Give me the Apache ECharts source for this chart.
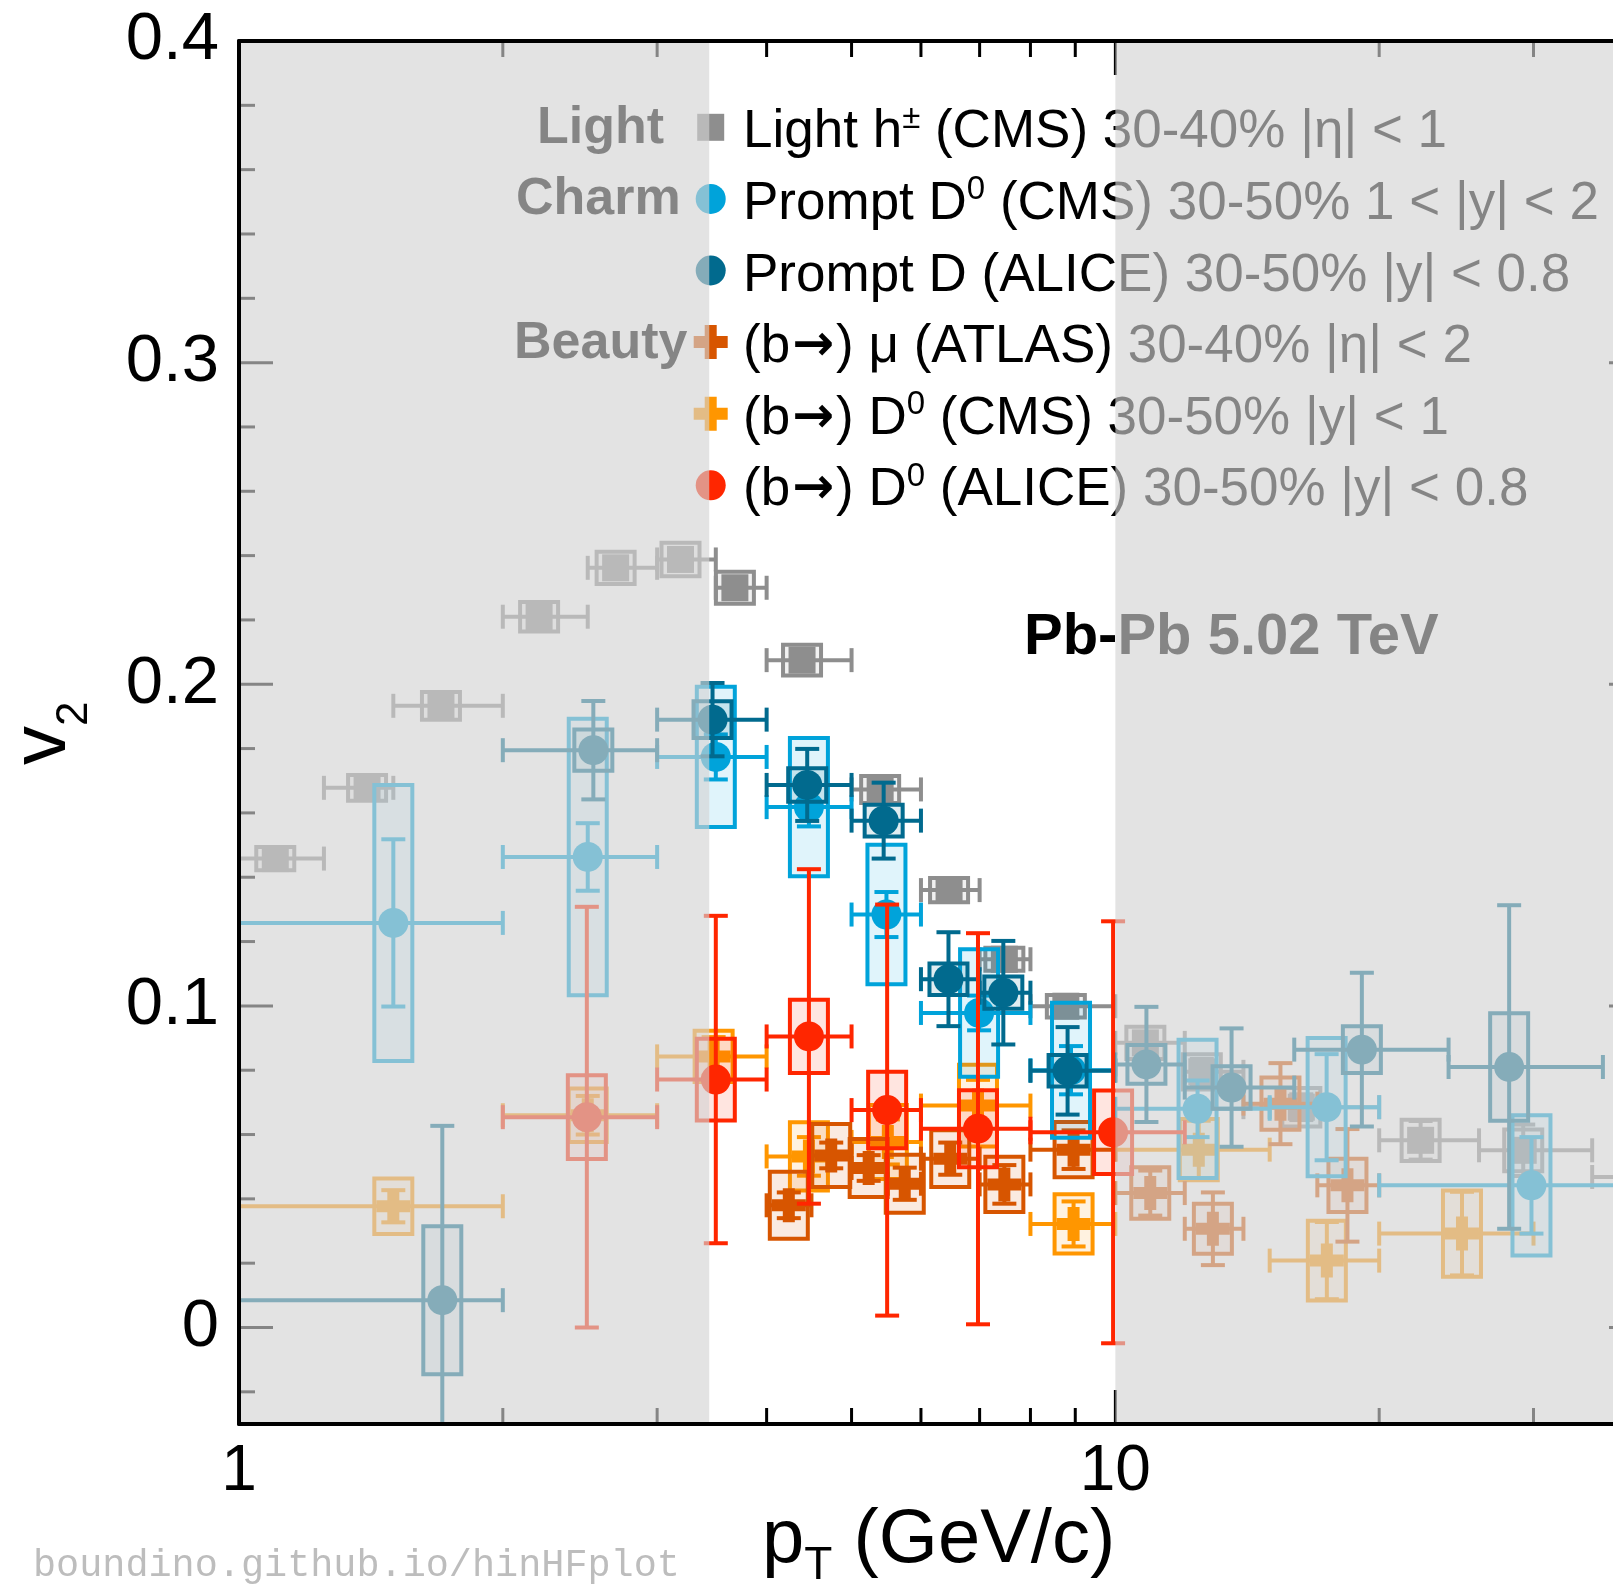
<!DOCTYPE html>
<html><head><meta charset="utf-8">
<script src="https://cdn.jsdelivr.net/npm/echarts@6/dist/echarts.min.js"></script>
<style>html,body{margin:0;padding:0;background:#fff}#c{width:1613px;height:1585px}</style>
</head><body><div id="c"></div>
<script>
const FONT = '"Liberation Sans", Arial, Helvetica, sans-serif';
const MONO = '"Liberation Mono", "DejaVu Sans Mono", monospace';
const ARROW_FONT = '"DejaVu Sans", sans-serif';
const X_MIN = 1, X_MAX = 40, Y_MIN = -0.03, Y_MAX = 0.4;
const xTickLabels = [1, 10];
const yTickLabels = [0, 0.1, 0.2, 0.3, 0.4];
const xMajorTicks = [10];
const xMinorTicks = [2, 3, 4, 5, 6, 7, 8, 9, 20, 30];
const yMajorTicks = [0, 0.1, 0.2, 0.3, 0.4];
const yMinorTicks = [-0.02, 0.02, 0.04, 0.06, 0.08, 0.12, 0.14, 0.16, 0.18, 0.22, 0.24, 0.26, 0.28, 0.32, 0.34, 0.36, 0.38];
const shadeRanges = [[1, 3.44], [10, 40]];

// Light h± (CMS) 30-40%
const lightPt   = [1.10, 1.40, 1.70, 2.20, 2.69, 3.19, 3.68, 4.39, 5.39, 6.46, 7.47, 8.78, 10.82, 12.55, 16.3, 22.3, 29.2, 39.5];
const lightLo   = [1.0, 1.25, 1.5, 2.0, 2.5, 3.0, 3.5, 4.0, 5, 6, 7, 8, 10, 12, 14, 20, 26, 35];
const lightHi   = [1.25, 1.5, 2.0, 2.5, 3.0, 3.5, 4.0, 5, 6, 7, 8, 10, 12, 14, 20, 26, 35, 45];
const lightV2   = [0.1458, 0.1678, 0.1933, 0.2210, 0.2362, 0.2388, 0.2300, 0.2075, 0.1673, 0.1360, 0.1145, 0.0999, 0.0885, 0.0795, 0.0685, 0.0582, 0.0551, 0.0468];
const lightStat = [0.001, 0.001, 0.001, 0.001, 0.001, 0.001, 0.0015, 0.0015, 0.002, 0.002, 0.002, 0.002, 0.003, 0.004, 0.004, 0.006, 0.008, 0.0083];
const lightSyst = [0.0036, 0.0040, 0.0043, 0.0046, 0.0050, 0.0052, 0.0050, 0.0048, 0.0042, 0.0038, 0.0036, 0.0035, 0.0050, 0.0055, 0.0060, 0.0064, 0.0065, 0.0065];

// Prompt D0 (CMS) 30-50% 1<|y|<2
const d0cmsPt   = [1.5, 2.5, 3.5, 4.47, 5.48, 6.99, 8.9, 12.41, 17.42, 29.84];
const d0cmsLo   = [1, 2, 3, 4, 5, 6, 8, 10, 15, 20];
const d0cmsHi   = [2, 3, 4, 5, 6, 8, 10, 15, 20, 40];
const d0cmsV2   = [0.1258, 0.1463, 0.1774, 0.1618, 0.1284, 0.0978, 0.0800, 0.0680, 0.0685, 0.0442];
const d0cmsStat = [0.026, 0.0105, 0.0070, 0.0060, 0.0070, 0.0054, 0.0075, 0.0088, 0.0165, 0.0150];
const d0cmsSyst = [0.0429, 0.0430, 0.0218, 0.0215, 0.0217, 0.0198, 0.0210, 0.0215, 0.0215, 0.0218];

// Prompt D (ALICE) 30-50% |y|<0.8
const daliPt   = [1.706, 2.537, 3.47, 4.45, 5.44, 6.45, 7.45, 8.82, 10.85, 13.57, 19.11, 28.14];
const daliLo   = [1, 2, 3, 4, 5, 6, 7, 8, 10, 12, 16, 24];
const daliHi   = [2, 3, 4, 5, 6, 7, 8, 10, 12, 16, 24, 36];
const daliV2   = [0.0085, 0.1795, 0.1890, 0.1687, 0.1576, 0.1083, 0.1041, 0.0798, 0.0818, 0.0746, 0.0864, 0.0810];
const daliStat = [0.0542, 0.0153, 0.0114, 0.0112, 0.0118, 0.0146, 0.0161, 0.0136, 0.0179, 0.0184, 0.0239, 0.0503];
const daliSyst = [0.0230, 0.0064, 0.0057, 0.0052, 0.0049, 0.0049, 0.0050, 0.0049, 0.0060, 0.0066, 0.0073, 0.0167];

// (b→) μ (ATLAS) 30-40% |η|<2
const muPt   = [4.24, 4.74, 5.23, 5.75, 6.48, 7.47, 8.96, 10.96, 12.92, 15.43, 18.4];
const muLo   = [4, 4.5, 5, 5.5, 6, 7, 8, 10, 12, 14, 17];
const muHi   = [4.5, 5, 5.5, 6, 7, 8, 10, 12, 14, 17, 20];
const muV2   = [0.0380, 0.0535, 0.0496, 0.0447, 0.0525, 0.0445, 0.0553, 0.0418, 0.0307, 0.0696, 0.0442];
const muStat = [0.004, 0.004, 0.004, 0.005, 0.005, 0.006, 0.006, 0.007, 0.0113, 0.0126, 0.0175];
const muSyst = [0.0104, 0.0098, 0.0090, 0.0090, 0.0088, 0.0086, 0.0086, 0.0080, 0.0078, 0.0081, 0.0083];

// (b→) D0 (CMS) 30-50% |y|<1
const bcmsPt   = [1.5, 2.5, 3.48, 4.47, 5.5, 6.97, 8.96, 12.45, 17.43, 24.86];
const bcmsLo   = [1, 2, 3, 4, 5, 6, 8, 10, 15, 20];
const bcmsHi   = [2, 3, 4, 5, 6, 8, 10, 15, 20, 30];
const bcmsV2   = [0.0377, 0.0660, 0.0843, 0.0532, 0.0577, 0.0690, 0.0322, 0.0553, 0.0208, 0.0292];
const bcmsStat = [0.005, 0.006, 0.006, 0.006, 0.007, 0.008, 0.007, 0.009, 0.012, 0.013];
const bcmsSyst = [0.0086, 0.0083, 0.0080, 0.0106, 0.0115, 0.0127, 0.0092, 0.0095, 0.0124, 0.0134];

// (b→) D0 (ALICE) 30-50% |y|<0.8
const baliPt   = [2.494, 3.5, 4.47, 5.49, 6.97, 9.94];
const baliLo   = [2, 3, 4, 5, 6, 8];
const baliHi   = [3, 4, 5, 6, 8, 12];
const baliV2   = [0.0654, 0.0771, 0.0905, 0.0676, 0.0618, 0.0607];
const baliStat = [0.0654, 0.0509, 0.0520, 0.0639, 0.0608, 0.0656];
const baliSyst = [0.0130, 0.0127, 0.0114, 0.0119, 0.0120, 0.0130];

const legendLabels = [
  [{t: 'Light h'}, {t: '±', sup: true}, {t: ' (CMS) 30-40% |η| < 1'}],
  [{t: 'Prompt D'}, {t: '0', sup: true}, {t: ' (CMS) 30-50% 1 < |y| < 2'}],
  [{t: 'Prompt D (ALICE) 30-50% |y| < 0.8'}],
  [{t: '(b'}, {t: '→', arrow: true}, {t: ') μ (ATLAS) 30-40% |η| < 2'}],
  [{t: '(b'}, {t: '→', arrow: true}, {t: ') D'}, {t: '0', sup: true}, {t: ' (CMS) 30-50% |y| < 1'}],
  [{t: '(b'}, {t: '→', arrow: true}, {t: ') D'}, {t: '0', sup: true}, {t: ' (ALICE) 30-50% |y| < 0.8'}]
];
const groupLabels = ['Light', 'Charm', 'Beauty'];

const COL = {
  light: '#8e8e8e', d0cms: '#00a3da', dali: '#016a8e',
  mu: '#d75500', bcms: '#ff9600', bali: '#ff2600'
};
function rgba(hex, a) {
  const n = parseInt(hex.slice(1), 16);
  return `rgba(${(n >> 16) & 255},${(n >> 8) & 255},${n & 255},${a})`;
}

const SERIES = [
  {name: 'light', color: COL.light, marker: 'square', pt: lightPt, lo: lightLo, hi: lightHi, v: lightV2, st: lightStat, sy: lightSyst, z: 3},
  {name: 'bcms', color: COL.bcms, marker: 'plus', pt: bcmsPt, lo: bcmsLo, hi: bcmsHi, v: bcmsV2, st: bcmsStat, sy: bcmsSyst, z: 4},
  {name: 'mu', color: COL.mu, marker: 'plus', pt: muPt, lo: muLo, hi: muHi, v: muV2, st: muStat, sy: muSyst, z: 5},
  {name: 'd0cms', color: COL.d0cms, marker: 'circle', pt: d0cmsPt, lo: d0cmsLo, hi: d0cmsHi, v: d0cmsV2, st: d0cmsStat, sy: d0cmsSyst, z: 6},
  {name: 'dali', color: COL.dali, marker: 'circle', pt: daliPt, lo: daliLo, hi: daliHi, v: daliV2, st: daliStat, sy: daliSyst, z: 7},
  {name: 'bali', color: COL.bali, marker: 'circle', pt: baliPt, lo: baliLo, hi: baliHi, v: baliV2, st: baliStat, sy: baliSyst, z: 8}
];

const BOX_HW = 19, CAP = 12, LW = 4;
function markerShape(kind, cx, cy, color) {
  if (kind === 'circle') return {type: 'circle', shape: {cx, cy, r: 15}, style: {fill: color}};
  if (kind === 'square') return {type: 'rect', shape: {x: cx - 13.5, y: cy - 13.5, width: 27, height: 27}, style: {fill: color}};
  const a = 17, b = 6;
  const pts = [[-b,-a],[b,-a],[b,-b],[a,-b],[a,b],[b,b],[b,a],[-b,a],[-b,b],[-a,b],[-a,-b],[-b,-b]].map(p => [cx + p[0], cy + p[1]]);
  return {type: 'polygon', shape: {points: pts}, style: {fill: color}};
}

function makeSeries(s) {
  const data = s.pt.map((p, i) => [p, s.v[i], s.lo[i], s.hi[i], s.st[i], s.sy[i]]);
  const fill = rgba(s.color, 0.12);
  return {
    type: 'custom', name: s.name, z: s.z, clip: true, silent: true, data,
    encode: {x: 0, y: 1},
    renderItem(params, api) {
      const x = api.value(0), y = api.value(1), xl = api.value(2), xh = api.value(3), st = api.value(4), sy = api.value(5);
      const c = api.coord([x, y]);
      const pxl = api.coord([xl, y])[0], pxh = api.coord([xh, y])[0];
      const syT = api.coord([x, y + sy])[1], syB = api.coord([x, y - sy])[1];
      const stT = api.coord([x, y + st])[1], stB = api.coord([x, y - st])[1];
      const ls = {stroke: s.color, lineWidth: LW};
      const ch = [];
      ch.push({type: 'rect', shape: {x: c[0] - BOX_HW, y: syT, width: 2 * BOX_HW, height: syB - syT}, style: {fill: fill, stroke: s.color, lineWidth: LW}});
      ch.push({type: 'line', shape: {x1: pxl, y1: c[1], x2: pxh, y2: c[1]}, style: ls});
      ch.push({type: 'line', shape: {x1: pxl, y1: c[1] - CAP, x2: pxl, y2: c[1] + CAP}, style: ls});
      ch.push({type: 'line', shape: {x1: pxh, y1: c[1] - CAP, x2: pxh, y2: c[1] + CAP}, style: ls});
      ch.push({type: 'line', shape: {x1: c[0], y1: stT, x2: c[0], y2: stB}, style: ls});
      ch.push({type: 'line', shape: {x1: c[0] - CAP, y1: stT, x2: c[0] + CAP, y2: stT}, style: ls});
      ch.push({type: 'line', shape: {x1: c[0] - CAP, y1: stB, x2: c[0] + CAP, y2: stB}, style: ls});
      ch.push(markerShape(s.marker, c[0], c[1], s.color));
      return {type: 'group', children: ch};
    }
  };
}

const tickData = [];
xMajorTicks.forEach(v => tickData.push([v, Y_MIN, 0, 1]));
xMinorTicks.forEach(v => tickData.push([v, Y_MIN, 0, 0]));
yMajorTicks.forEach(v => tickData.push([X_MIN, v, 1, 1]));
yMinorTicks.forEach(v => tickData.push([X_MIN, v, 1, 0]));
const tickSeries = {
  type: 'custom', z: 2, silent: true, data: tickData, encode: {x: 0, y: 1},
  renderItem(params, api) {
    const cs = params.coordSys;
    const isY = api.value(2), major = api.value(3);
    const L = major ? 34 : 16;
    const st = {stroke: '#000', lineWidth: 3};
    if (!isY) {
      const px = api.coord([api.value(0), Y_MIN])[0];
      return {type: 'group', children: [
        {type: 'line', shape: {x1: px, y1: cs.y + cs.height, x2: px, y2: cs.y + cs.height - L}, style: st},
        {type: 'line', shape: {x1: px, y1: cs.y, x2: px, y2: cs.y + L}, style: st}
      ]};
    }
    const py = api.coord([X_MIN, api.value(1)])[1];
    const xr = api.coord([X_MAX, api.value(1)])[0];
    return {type: 'group', children: [
      {type: 'line', shape: {x1: cs.x, y1: py, x2: cs.x + L, y2: py}, style: st},
      {type: 'line', shape: {x1: xr, y1: py, x2: xr - L, y2: py}, style: st}
    ]};
  }
};

const overlaySeries = {
  type: 'custom', z: 50, silent: true,
  data: shadeRanges.map(r => [r[0], r[1], Y_MIN, Y_MAX]),
  encode: {x: [0, 1], y: [2, 3]},
  renderItem(params, api) {
    const p0 = api.coord([api.value(0), api.value(3)]);
    const p1 = api.coord([api.value(1), api.value(2)]);
    return {type: 'rect', shape: {x: p0[0], y: p0[1], width: p1[0] - p0[0], height: p1[1] - p0[1]},
      style: {fill: 'rgba(211,211,211,0.63)'}};
  }
};

// text helpers
const mctx = document.createElement('canvas').getContext('2d');
function midOffset(size, weight, fam) {
  mctx.font = `${weight} ${size}px ${fam}`;
  mctx.textBaseline = 'alphabetic';
  const m = mctx.measureText('Hg');
  if (m.fontBoundingBoxAscent !== undefined) return (m.fontBoundingBoxAscent - m.fontBoundingBoxDescent) / 2;
  return 0.3465 * size;
}
function run(segs, x0, base, z) {
  let x = x0; const out = [];
  for (const s of segs) {
    const w = s.weight || 'normal', fam = s.family || FONT, size = s.size;
    mctx.font = `${w} ${size}px ${fam}`;
    const wd = mctx.measureText(s.text).width;
    out.push({type: 'text', x: x + (s.dx || 0), y: base + (s.dy || 0) - midOffset(size, w, fam), z: z, silent: true,
      style: {text: s.text, fontSize: size, fontWeight: w, fontFamily: fam, fill: s.color || '#000', align: 'left', verticalAlign: 'middle'}});
    x += wd + (s.after || 0);
  }
  return out;
}

const graphics = [];
const LEG_X = 710.7, LEG_TX = 743, LEG_Y0 = 127.3, LEG_DY = 71.6, LEG_FS = 53;
const legendMarkers = ['square', 'circle', 'circle', 'plus', 'plus', 'circle'];
const legendColors = [COL.light, COL.d0cms, COL.dali, COL.mu, COL.bcms, COL.bali];
legendLabels.forEach((row, i) => {
  const y = LEG_Y0 + i * LEG_DY;
  const m = markerShape(legendMarkers[i], LEG_X, y, legendColors[i]);
  m.z = 10; m.silent = true;
  graphics.push(m);
  const base = y + 0.358 * LEG_FS + 5;
  const segs = row.map(r => r.sup ? {text: r.t, size: 33, dy: -21}
    : r.arrow ? {text: r.t, size: 50, weight: 'bold', family: ARROW_FONT, dx: 2, after: 4, dy: -2}
    : {text: r.t, size: LEG_FS});
  graphics.push(...run(segs, LEG_TX, base, 10));
});
const groupPos = [[537, 147], [516, 218], [514, 362]];
groupLabels.forEach((g, i) => {
  graphics.push(...run([{text: g, size: 52, weight: 'bold'}], groupPos[i][0], groupPos[i][1], 10));
});
graphics.push(...run([{text: 'Pb-Pb 5.02 TeV', size: 58, weight: 'bold'}], 1024, 658, 10));
// axis titles
graphics.push(...run([{text: 'p', size: 76}, {text: 'T', size: 46, dy: 14}, {text: ' (GeV/c)', size: 76}], 762, 1568, 60));
graphics.push({type: 'group', x: 70, y: 765, rotation: Math.PI / 2, z: 60,
  children: run([{text: 'v', size: 78}, {text: '2', size: 44, dy: 20}], 0, 0, 60)});
graphics.push(...run([{text: 'boundino.github.io/hinHFplot', size: 38.5, family: MONO, color: '#bdbdbd'}], 33, 1576, 60));

const axisLine = {show: true, onZero: false, lineStyle: {color: '#000', width: 4}};
const option = {
  animation: false,
  backgroundColor: '#fff',
  grid: {left: 239, top: 41, width: 1404, height: 1383, containLabel: false, outerBoundsMode: 'none'},
  xAxis: [
    {type: 'log', logBase: 10, min: X_MIN, max: X_MAX, position: 'bottom', z: 60,
      axisLine, axisTick: {show: false}, splitLine: {show: false}, minorTick: {show: false},
      axisLabel: {show: true, fontSize: 64, fontFamily: FONT, color: '#000', margin: 16, showMinLabel: true, showMaxLabel: true,
        formatter: v => xTickLabels.some(t => Math.abs(t - v) / t < 1e-6) ? String(Math.round(v)) : ''}},
    {type: 'log', logBase: 10, min: X_MIN, max: X_MAX, position: 'top', z: 60,
      axisLine, axisTick: {show: false}, splitLine: {show: false}, axisLabel: {show: false}}
  ],
  yAxis: [
    {type: 'value', min: Y_MIN, max: Y_MAX, splitNumber: 5, z: 60,
      axisLine, axisTick: {show: false}, splitLine: {show: false},
      axisLabel: {show: true, fontSize: 67, fontFamily: FONT, color: '#000', margin: 20, showMinLabel: true, showMaxLabel: true,
        formatter: v => { const m = yTickLabels.find(t => Math.abs(t - v) < 1e-9); return m === undefined ? '' : String(m); }}}
  ],
  series: [tickSeries, ...SERIES.map(makeSeries), overlaySeries],
  graphic: {elements: graphics}
};
const chart = echarts.init(document.getElementById('c'));
chart.setOption(option);
</script>
</body></html>
